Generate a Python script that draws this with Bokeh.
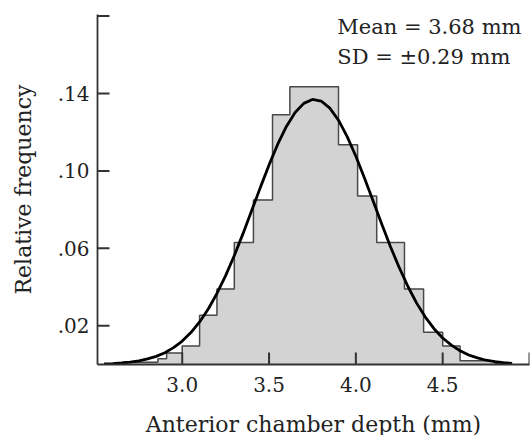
from bokeh.plotting import figure
from bokeh.models import FixedTicker, CustomJSTickFormatter, Label, Range1d
from bokeh.embed import file_html
from bokeh.resources import INLINE

# Histogram bin edges (mm) and relative frequencies
bin_edges = [2.66, 2.86, 2.91, 3.00, 3.10, 3.20, 3.30, 3.41, 3.52, 3.62,
             3.90, 4.01, 4.12, 4.28, 4.39, 4.50, 4.60, 4.80, 4.89]
rel_freq = [0.0012, 0.003, 0.006, 0.0095, 0.0255, 0.039, 0.063, 0.085, 0.129,
            0.1435, 0.1135, 0.087, 0.063, 0.039, 0.0166, 0.0095, 0.002, 0.0006]

# Fitted curve, points
curve_x = [2.55, 2.60, 2.65, 2.70, 2.75, 2.80, 2.85, 2.90, 2.95, 3.00,
           3.05, 3.10, 3.15, 3.20, 3.25, 3.30, 3.35, 3.40, 3.45, 3.50,
           3.55, 3.60, 3.65, 3.70, 3.75, 3.80, 3.85, 3.90, 3.95, 4.00,
           4.05, 4.10, 4.15, 4.20, 4.25, 4.30, 4.35, 4.40, 4.45, 4.50,
           4.55, 4.60, 4.65, 4.70, 4.75, 4.80, 4.85, 4.90]
curve_y = [0.0003, 0.0005, 0.0008, 0.0012, 0.0019, 0.0029, 0.0042, 0.0061, 0.0087, 0.0121,
           0.0165, 0.0220, 0.0287, 0.0367, 0.0459, 0.0563, 0.0676, 0.0795, 0.0915, 0.1031,
           0.1138, 0.1230, 0.1302, 0.1349, 0.1369, 0.1361, 0.1324, 0.1262, 0.1177, 0.1076,
           0.0962, 0.0843, 0.0723, 0.0607, 0.0500, 0.0403, 0.0317, 0.0245, 0.0185, 0.0137,
           0.0100, 0.0071, 0.0049, 0.0034, 0.0022, 0.0015, 0.0009, 0.0006]

x_ticks = [3.0, 3.5, 4.0, 4.5]
x_end_tick = [5.0]
y_ticks = [0.02, 0.06, 0.10, 0.14]
y_end_tick = [0.18]

annot_lines = ["Mean = 3.68 mm", "SD = \u00b10.29 mm"]
x_title = "Anterior chamber depth (mm)"
y_title = "Relative frequency"

FONT = "DejaVu Serif"
AX = "#333333"
TXT = "#222222"
X0, X1 = 2.512, 5.0
Y0, Y1 = 0.0, 0.1808
FW, FH = 432, 350
TICK = 12  # px

p = figure(frame_width=FW, frame_height=FH, output_backend="svg", toolbar_location=None,
           x_range=Range1d(X0, X1), y_range=Range1d(Y0, Y1),
           min_border_left=97, min_border_right=1, min_border_top=14,
           min_border_bottom=71)
p.outline_line_color = None
p.xgrid.visible = False
p.ygrid.visible = False
p.background_fill_color = "white"
p.border_fill_color = "white"

# histogram fill
p.quad(left=bin_edges[:-1], right=bin_edges[1:], bottom=0, top=rel_freq,
       fill_color="#d3d3d3", line_color="#d3d3d3", line_width=1)
# histogram outline as a step line
step_x = [bin_edges[0]] + bin_edges
step_y = [0] + rel_freq + [0]
p.step(step_x, step_y, mode="after", line_color="#4a4a4a", line_width=1.5)

# curve
p.line(curve_x, curve_y, line_color="black", line_width=2.8)

# inward tick marks
dx = TICK * (X1 - X0) / FW
dy = TICK * (Y1 - Y0) / FH
all_x_ticks = x_ticks + x_end_tick
all_y_ticks = y_ticks + y_end_tick
p.segment(x0=all_x_ticks, y0=[Y0] * len(all_x_ticks), x1=all_x_ticks,
          y1=[Y0 + dy] * len(all_x_ticks), line_color=AX, line_width=2)
p.segment(x0=[X0] * len(all_y_ticks), y0=all_y_ticks, x1=[X0 + dx] * len(all_y_ticks),
          y1=all_y_ticks, line_color=AX, line_width=2)

for ax, ticks in ((p.xaxis[0], x_ticks), (p.yaxis[0], y_ticks)):
    ax.ticker = FixedTicker(ticks=ticks)
    ax.axis_line_color = AX
    ax.axis_line_width = 1.8
    ax.major_tick_line_color = None
    ax.minor_tick_line_color = None
    ax.major_tick_in = 0
    ax.major_tick_out = 0
    ax.major_label_text_font = FONT
    ax.major_label_text_font_size = "20px"
    ax.major_label_text_color = TXT
    ax.major_label_text_line_height = 1.0
    ax.axis_label_text_font = FONT
    ax.axis_label_text_font_size = "22px"
    ax.axis_label_text_font_style = "normal"
    ax.axis_label_text_color = TXT
    ax.axis_label_text_line_height = 1.0

p.xaxis.axis_label = x_title
p.yaxis.axis_label = y_title
p.xaxis.major_label_standoff = 12
p.xaxis.axis_label_standoff = 17
p.yaxis.major_label_standoff = 8
p.yaxis.axis_label_standoff = 19
p.yaxis.formatter = CustomJSTickFormatter(code="return tick.toFixed(2).replace(/^0/, '');")
p.xaxis.formatter = CustomJSTickFormatter(code="return tick.toFixed(1);")

for i, line in enumerate(annot_lines):
    p.add_layout(Label(x=3.893, y=0.1746 - i * 0.0155, text=line,
                       text_font=FONT, text_font_size="21px", text_color=TXT,
                       text_baseline="alphabetic", text_align="left"))

open("out.html", "w").write(file_html(p, INLINE))
